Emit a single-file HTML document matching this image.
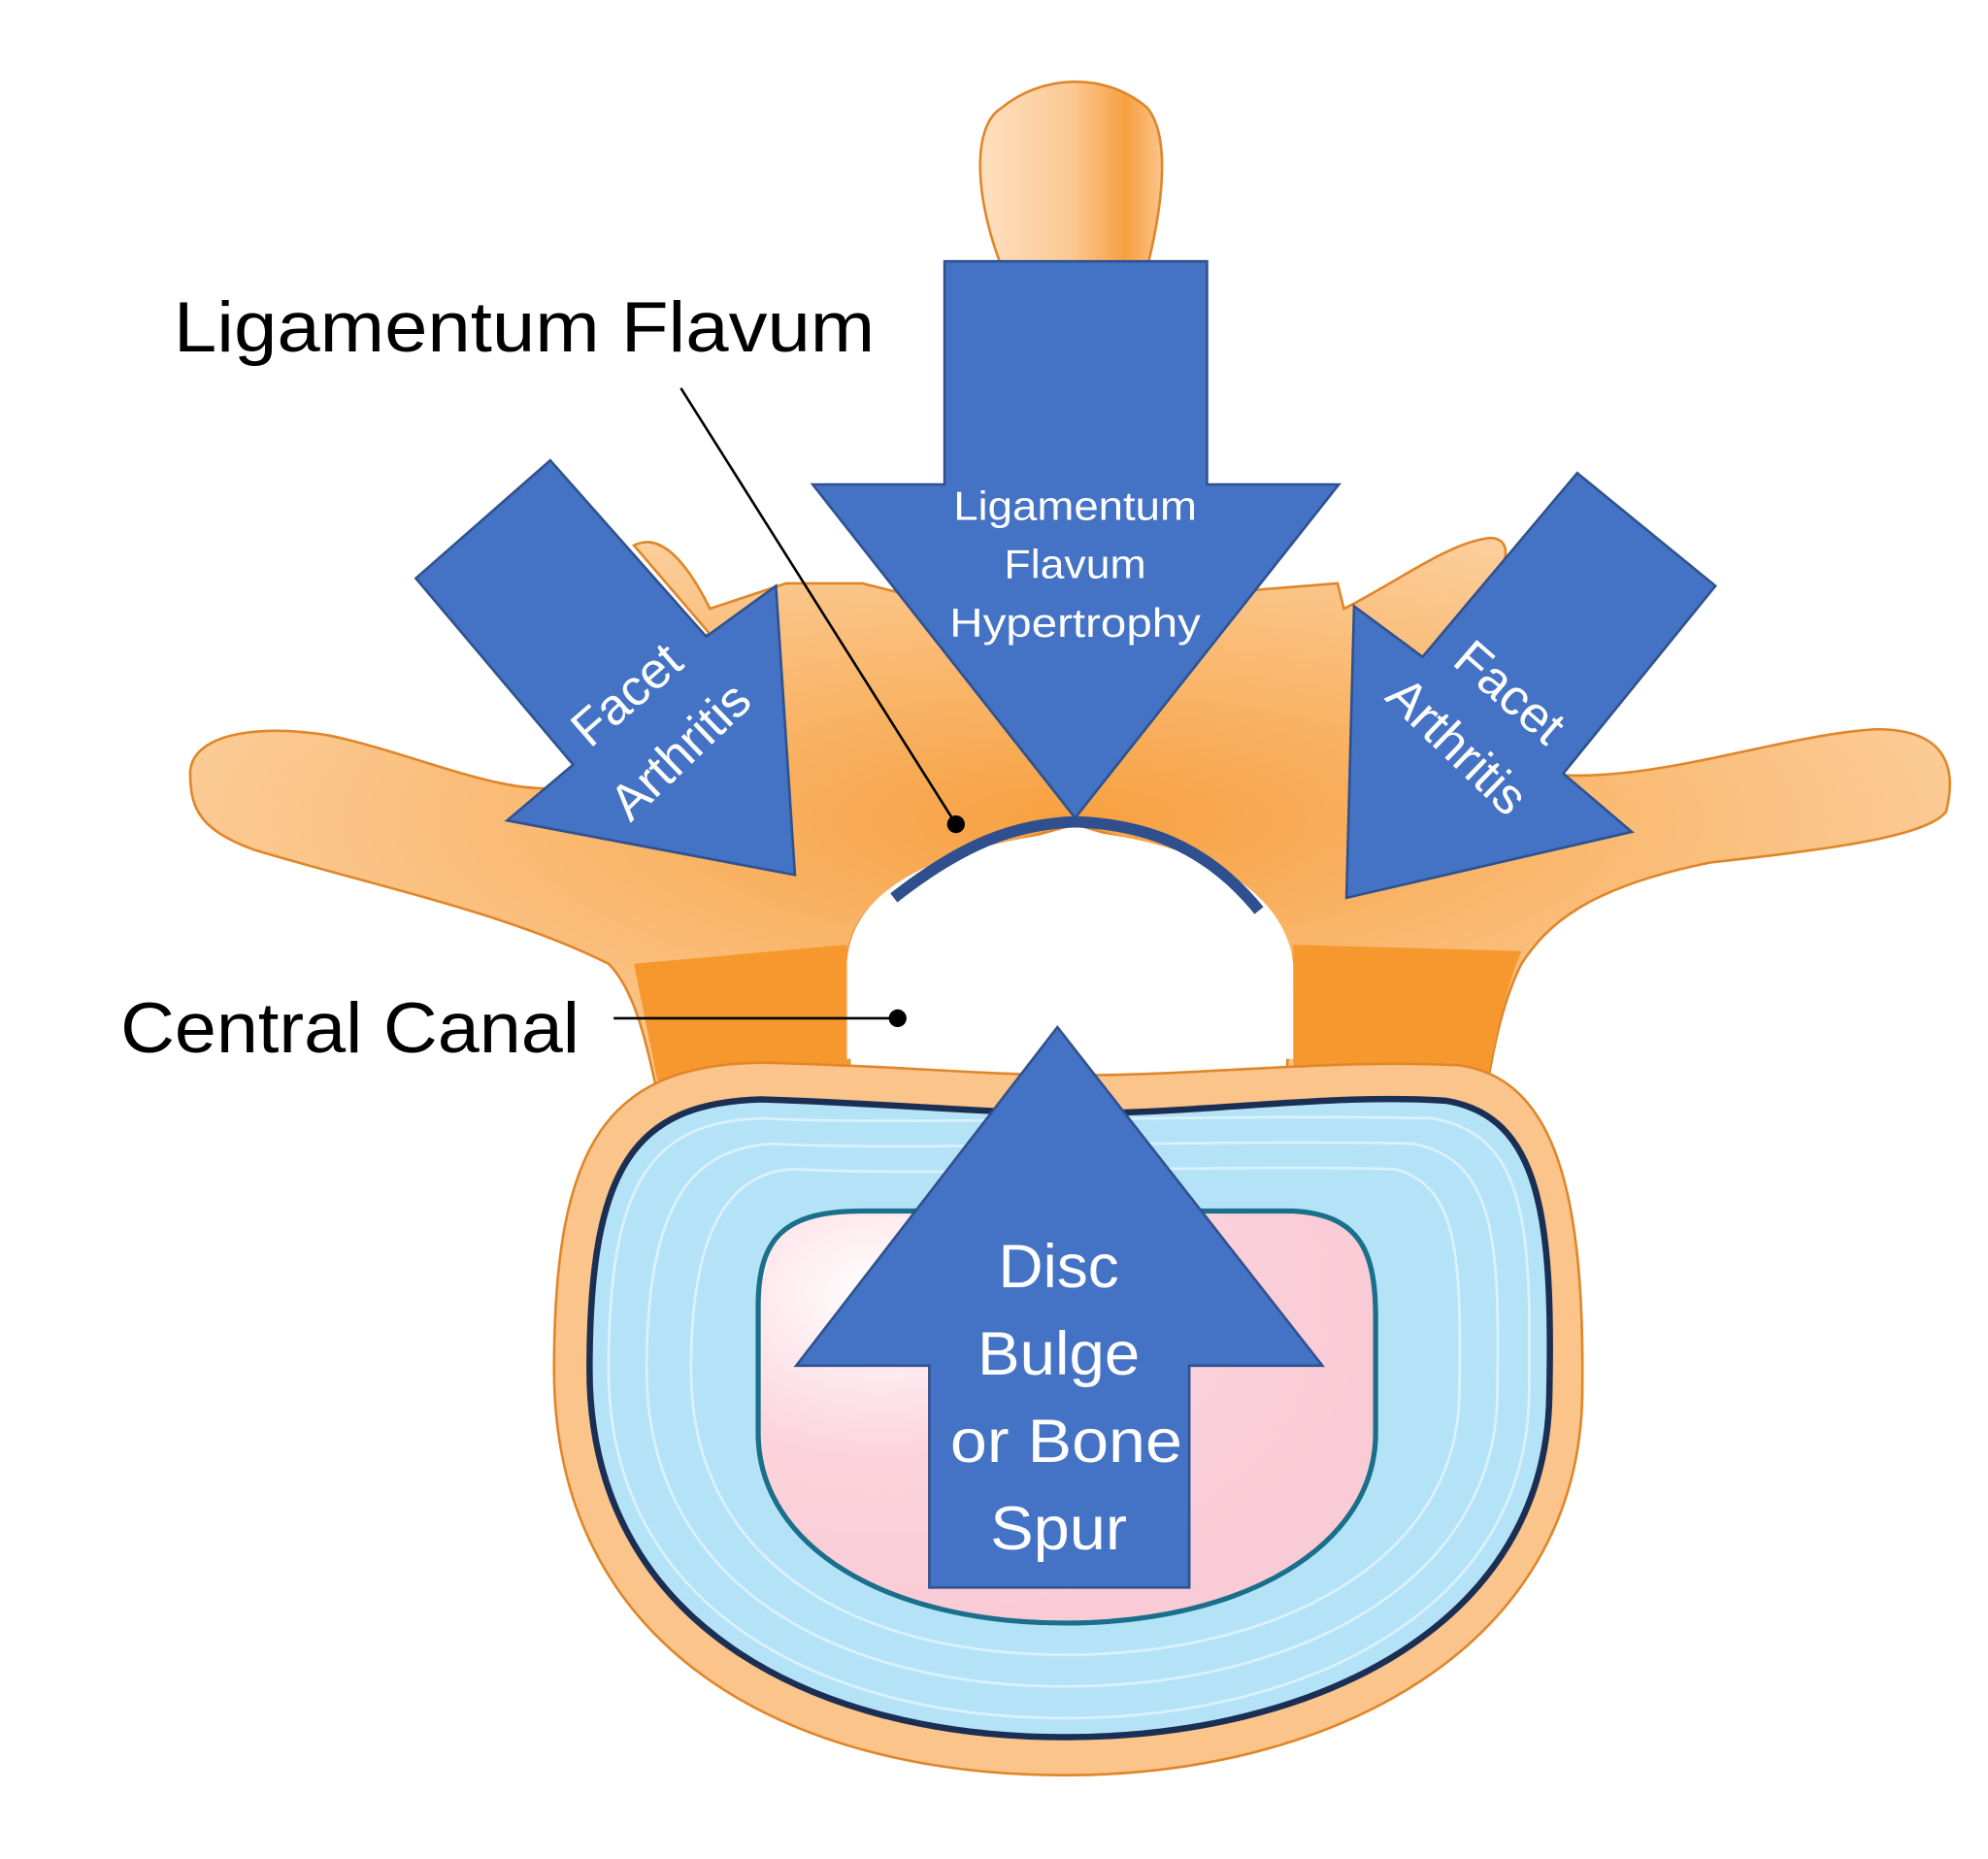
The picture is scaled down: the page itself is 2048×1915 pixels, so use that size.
<!DOCTYPE html>
<html><head><meta charset="utf-8"><style>
html,body{margin:0;padding:0;background:#fff;}
svg{display:block}
text{font-family:"Liberation Sans",sans-serif;}
</style></head><body>
<svg width="2048" height="1915" viewBox="0 0 1568 1466" xmlns="http://www.w3.org/2000/svg">
<defs>
<radialGradient id="og" cx="50%" cy="50%" r="60%">
<stop offset="0" stop-color="#f7a040"/><stop offset="1" stop-color="#fcd3a4"/></radialGradient>
<linearGradient id="sp" x1="0" x2="1"><stop offset="0" stop-color="#fde0c0"/><stop offset="0.5" stop-color="#fcc993"/><stop offset="0.8" stop-color="#f7a040"/><stop offset="1" stop-color="#fbc48a"/></linearGradient>
<radialGradient id="pk" cx="20%" cy="20%" r="80%"><stop offset="0" stop-color="#fff"/><stop offset="0.5" stop-color="#fcd3dc"/><stop offset="1" stop-color="#f9cbd6"/></radialGradient>
</defs>
<path d="M790,210 C770,160 765,100 790,85 C820,60 870,55 905,85 C925,110 915,170 905,210 Z" fill="url(#sp)" stroke="#e0862a" stroke-width="2"/>
<path d="M150,610 C150,580 200,570 260,580 C330,595 400,630 450,620 C500,590 540,500 560,500 L500,430 C520,420 540,440 560,480 L620,460 L680,460 L760,480 L848,640 L930,470 L1055,460 L1060,480 C1100,460 1140,430 1170,425 C1190,420 1200,440 1160,480 L1215,610 C1300,620 1400,580 1480,575 C1530,575 1545,600 1535,640 C1520,660 1440,670 1350,680 C1250,700 1220,730 1200,760 C1180,800 1175,850 1170,870 L1015,845 L1020,760 C1010,720 990,700 950,680 L848,650 L740,680 C700,700 670,720 668,760 L670,840 L520,870 C510,820 500,780 480,760 C400,720 300,700 200,670 C160,655 150,640 150,610 Z" fill="url(#og)" stroke="#e0862a" stroke-width="2"/>
<path d="M500,760 L668,745 L670,840 L520,860 Z" fill="#f7982f"/>
<path d="M1020,745 L1200,750 C1180,800 1175,850 1170,865 L1020,845 Z" fill="#f7982f"/>
<path d="M668,760 C670,710 720,670 848,655 C960,665 1015,710 1020,760 L1020,835 L668,835 Z" fill="#fff"/>
<path d="M437,1080 C437,900 480,840 600,838 C700,840 780,848 848,848 C950,848 1050,835 1150,840 C1230,850 1250,950 1248,1100 C1245,1300 1050,1400 840,1400 C620,1400 437,1300 437,1080 Z" fill="#fbc48a" stroke="#e0862a" stroke-width="2"/>
<path d="M465,1080 C465,920 500,870 600,867 C700,870 780,878 848,878 C950,878 1050,862 1140,868 C1215,880 1225,960 1222,1100 C1220,1280 1040,1370 840,1370 C640,1370 465,1280 465,1080 Z" fill="#b4e3f7" stroke="#1b2f55" stroke-width="5"/>
<g fill="none" stroke="#e6f6fd" stroke-width="2" opacity="0.8">
<path d="M480,1080 C480,930 515,885 600,882 C720,888 960,878 1130,882 C1205,895 1208,970 1206,1100 C1204,1270 1030,1355 840,1355 C650,1355 480,1270 480,1080 Z"/>
<path d="M510,1080 C510,950 545,905 610,902 C720,908 960,898 1115,902 C1180,915 1183,980 1181,1100 C1179,1250 1020,1330 840,1330 C660,1330 510,1250 510,1080 Z"/>
<path d="M545,1080 C545,970 575,925 625,922 C730,928 960,918 1100,922 C1150,935 1153,990 1151,1100 C1149,1230 1010,1305 840,1305 C670,1305 545,1230 545,1080 Z"/>
</g>
<path d="M598,1030 C598,975 620,955 680,955 L1020,955 C1075,958 1085,990 1085,1040 L1085,1130 C1085,1220 980,1280 840,1280 C700,1280 598,1220 598,1130 Z" fill="url(#pk)" stroke="#1a6f8a" stroke-width="4"/>
<path d="M705,708 C760,665 800,650 848,648 C900,650 950,665 993,718" fill="none" stroke="#2f4f8f" stroke-width="9"/>
<g fill="#4472C4" stroke="#2F528F" stroke-width="2">
<polygon points="745,206 952,206 952,382 1056,382 848,645 641,382 745,382"/>
<polygon points="834,810 1043,1077 938,1077 938,1252 733,1252 733,1077 628,1077"/>
<polygon points="434,363 557,502 612,462 627,690 400,647 452,603 328,456"/>
<polygon points="1244,373 1353,462 1233,610 1287,656 1062,708 1068,478 1122,518"/>
</g>
<g fill="#fff" text-anchor="middle">
<text x="848" y="410" font-size="32" textLength="192" lengthAdjust="spacingAndGlyphs">Ligamentum</text>
<text x="848" y="456" font-size="32" textLength="112" lengthAdjust="spacingAndGlyphs">Flavum</text>
<text x="848" y="502" font-size="32" textLength="198" lengthAdjust="spacingAndGlyphs">Hypertrophy</text>
<text x="835" y="1015" font-size="48" textLength="95" lengthAdjust="spacingAndGlyphs">Disc</text>
<text x="835" y="1084" font-size="48" textLength="128" lengthAdjust="spacingAndGlyphs">Bulge</text>
<text x="841" y="1153" font-size="48" textLength="183" lengthAdjust="spacingAndGlyphs">or Bone</text>
<text x="835" y="1222" font-size="48" textLength="108" lengthAdjust="spacingAndGlyphs">Spur</text>
<g transform="translate(503,558) rotate(-41)"><text x="0" y="0" font-size="40">Facet</text></g>
<g transform="translate(546,602) rotate(-44)"><text x="0" y="0" font-size="40">Arthritis</text></g>
<g transform="translate(1182,556) rotate(41)"><text x="0" y="0" font-size="40">Facet</text></g>
<g transform="translate(1140,598) rotate(44)"><text x="0" y="0" font-size="40">Arthritis</text></g>
</g>
<text x="137" y="277" font-size="56" fill="#000" textLength="553" lengthAdjust="spacingAndGlyphs">Ligamentum Flavum</text>
<text x="95" y="830" font-size="56" fill="#000" textLength="362" lengthAdjust="spacingAndGlyphs">Central Canal</text>
<line x1="537" y1="306" x2="754" y2="650" stroke="#000" stroke-width="2"/>
<circle cx="754" cy="650" r="7" fill="#000"/>
<line x1="484" y1="803" x2="708" y2="803" stroke="#000" stroke-width="2"/>
<circle cx="708" cy="803" r="7" fill="#000"/>
</svg>
</body></html>
